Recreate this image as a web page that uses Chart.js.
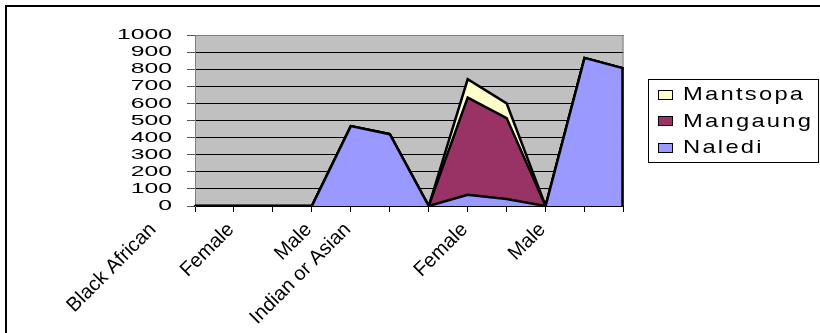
<!DOCTYPE html>
<html>
<head>
<meta charset="utf-8">
<script src="https://cdn.jsdelivr.net/npm/chart.js@4/dist/chart.umd.min.js"></script>
<style>
  html, body { margin: 0; padding: 0; background: #fff; }
  #wrap { width: 820px; height: 333px; }
</style>
</head>
<body>
<div id="wrap"><canvas id="c" width="820" height="333"></canvas></div>
<script>
// Category axis: only some positions carry a label
const categories = ['Black African', '', 'Female', '', 'Male', 'Indian or Asian', '', '', 'Female', '', 'Male', ''];

// Stacked series, bottom to top
const naledi   = [0, 0, 0, 0, 467, 420, 0, 66, 41, 0, 866, 805];
const mangaung = [0, 0, 0, 0, 0, 0, 0, 568, 473, 0, 0, 0];
const mantsopa = [0, 0, 0, 0, 0, 0, 0, 107, 86, 0, 0, 0];

const seriesNames  = ['Naledi', 'Mangaung', 'Mantsopa'];
const seriesValues = [naledi, mangaung, mantsopa];
const seriesColors = ['#9999FF', '#993366', '#FFFFCC'];

const yMin = 0, yMax = 1000, yStep = 100;

const FONT = 'Liberation Sans';
Chart.defaults.font.family = FONT;
Chart.defaults.color = '#000';

// Grey plot background, white page and the outer frame
const backdrop = {
  id: 'backdrop',
  beforeDraw(chart) {
    const { ctx, chartArea: a } = chart;
    ctx.save();
    ctx.fillStyle = '#fff';
    ctx.fillRect(0, 0, chart.width, chart.height);
    ctx.fillStyle = '#C0C0C0';
    ctx.fillRect(a.left, a.top, a.right - a.left, a.bottom - a.top);
    ctx.strokeStyle = '#000';
    ctx.lineWidth = 2;
    ctx.strokeRect(6, 6, chart.width + 50, chart.height + 50);
    ctx.restore();
  },
  beforeDatasetsDraw(chart) {
    const { ctx, chartArea: a } = chart;
    ctx.save();
    ctx.strokeStyle = '#808080';
    ctx.lineWidth = 1;
    ctx.beginPath();
    ctx.moveTo(a.left + 0.5, a.bottom);
    ctx.lineTo(a.left + 0.5, a.top + 0.5);
    ctx.lineTo(a.right - 0.5, a.top + 0.5);
    ctx.lineTo(a.right - 0.5, a.bottom);
    ctx.stroke();
    ctx.restore();
  },
  // closing edge of the stacked area at the last category
  afterDatasetsDraw(chart) {
    const { ctx } = chart;
    const xs = chart.scales.x, ys = chart.scales.y;
    const last = categories.length - 1;
    const total = seriesValues.reduce((s, arr) => s + arr[last], 0);
    ctx.save();
    ctx.strokeStyle = '#000';
    ctx.lineWidth = 2.5;
    ctx.beginPath();
    ctx.moveTo(xs.getPixelForValue(last) - 1, ys.getPixelForValue(total));
    ctx.lineTo(xs.getPixelForValue(last) - 1, ys.getPixelForValue(0));
    ctx.stroke();
    ctx.restore();
  }
};

// Wide value labels on the vertical axis
const wideYLabels = {
  id: 'wideYLabels',
  afterUpdate(chart) {
    const s = chart.scales.y;
    if (!s || s._wide) return;
    const orig = s.drawLabels.bind(s);
    s.drawLabels = function (area) {
      const items = this.getLabelItems(area);
      const ax = items.length ? items[0].options.translation[0] : 0;
      const ctx = this.ctx;
      ctx.save();
      ctx.translate(ax, 0);
      ctx.scale(1.65, 1);
      ctx.translate(-ax, 0);
      orig(area);
      ctx.restore();
    };
    s._wide = true;
  }
};

// Boxed legend on the right, top series first
const boxLegend = {
  id: 'boxLegend',
  afterDraw(chart) {
    const ctx = chart.ctx;
    ctx.save();
    ctx.fillStyle = '#fff';
    ctx.fillRect(648, 79, 171, 83);
    ctx.strokeStyle = '#000';
    ctx.lineWidth = 1;
    ctx.strokeRect(648.5, 79.5, 170, 83);
    const items = chart.data.datasets.slice().reverse();
    items.forEach((d, i) => {
      const cy = 94 + i * 26.5;
      ctx.fillStyle = d.backgroundColor;
      ctx.fillRect(658.5, Math.round(cy - 4.5) + 0.5, 14, 9);
      ctx.strokeStyle = '#000';
      ctx.strokeRect(658.5, Math.round(cy - 4.5) + 0.5, 14, 9);
      ctx.save();
      ctx.translate(683, cy);
      ctx.scale(1.25, 1);
      ctx.font = '19px "' + FONT + '"';
      ctx.letterSpacing = '1.8px';
      ctx.fillStyle = '#000';
      ctx.textBaseline = 'middle';
      ctx.textAlign = 'left';
      ctx.fillText(d.label, 0, 1);
      ctx.restore();
    });
    ctx.restore();
  }
};

const datasets = seriesNames.map((name, i) => ({
  label: name,
  data: seriesValues[i],
  backgroundColor: seriesColors[i],
  borderColor: '#000',
  borderWidth: 2.5,
  borderJoinStyle: 'miter',
  fill: i === 0 ? 'origin' : '-1',
  pointRadius: 0,
  pointHoverRadius: 0,
  tension: 0
}));

new Chart(document.getElementById('c'), {
  type: 'line',
  data: { labels: categories, datasets },
  options: {
    responsive: false,
    animation: false,
    devicePixelRatio: 1,
    layout: { padding: { top: 35, right: 196.5, bottom: 0, left: 0 } },
    plugins: {
      legend: { display: false },
      tooltip: { enabled: false }
    },
    scales: {
      x: {
        type: 'category',
        offset: false,
        grid: { drawOnChartArea: false, drawTicks: true, tickLength: 6, tickColor: '#000', lineWidth: 1 },
        border: { display: true, color: '#000', width: 2 },
        ticks: {
          autoSkip: false,
          minRotation: 45,
          maxRotation: 45,
          labelOffset: -42,
          padding: 6,
          font: { family: FONT, size: 20 },
          color: '#000'
        },
        afterFit(s) { s.height = 127; }
      },
      y: {
        stacked: true,
        min: yMin,
        max: yMax,
        ticks: {
          stepSize: yStep,
          autoSkip: false,
          padding: 15,
          font: { family: FONT, size: 15 },
          color: '#000',
          callback: v => String(v)
        },
        grid: { color: '#000', lineWidth: 1, tickLength: 8, tickColor: '#555' },
        border: { display: true, color: '#808080', width: 1 },
        afterFit(s) { s.width = 195; }
      }
    }
  },
  plugins: [backdrop, wideYLabels, boxLegend]
});
</script>
</body>
</html>
